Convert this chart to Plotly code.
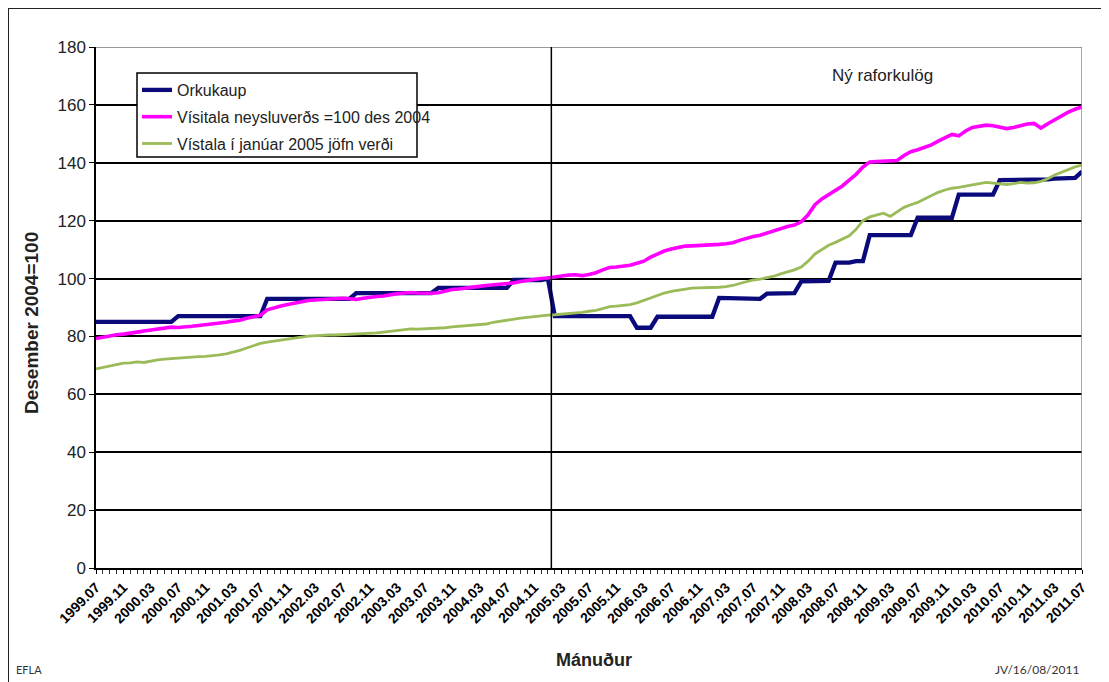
import plotly.graph_objects as go

# Month index 0 = 1999.07 ... 144 = 2011.07
start_year, start_month, n_months = 1999, 7, 145
months = [f"{start_year + (start_month - 1 + i) // 12}.{(start_month - 1 + i) % 12 + 1:02d}"
          for i in range(n_months)]

tick_labels = ["1999.07", "1999.11", "2000.03", "2000.07", "2000.11", "2001.03", "2001.07",
               "2001.11", "2002.03", "2002.07", "2002.11", "2003.03", "2003.07", "2003.11",
               "2004.03", "2004.07", "2004.11", "2005.03", "2005.07", "2005.11", "2006.03",
               "2006.07", "2006.11", "2007.03", "2007.07", "2007.11", "2008.03", "2008.07",
               "2008.11", "2009.03", "2009.07", "2009.11", "2010.03", "2010.07", "2010.11",
               "2011.03", "2011.07"]

orkukaup = [
    85, 85, 85, 85, 85, 85,
    85, 85, 85, 85, 85, 85, 87, 87, 87, 87, 87, 87,
    87, 87, 87, 87, 87, 87, 87, 93, 93, 93, 93, 93,
    93, 93, 93, 93, 93, 93, 93, 93, 95, 95, 95, 95,
    95, 95, 95, 95, 95, 95, 95, 95, 96.8, 96.8, 96.8, 96.8,
    96.8, 96.8, 96.8, 96.8, 96.8, 96.8, 96.8, 99.5, 99.5, 99.5, 99.5, 99.5,
    100, 87, 87, 87, 87, 87, 87, 87, 87, 87, 87, 87,
    87, 83, 83, 83, 86.8, 86.8, 86.8, 86.8, 86.8, 86.8, 86.8, 86.8,
    86.8, 93.3, 93.3, 93.3, 93.3, 93.3, 93.3, 93.0, 94.8, 94.8, 94.8, 94.8,
    95, 99, 99, 99, 99, 99.2, 105.5, 105.5, 105.5, 106, 106, 115,
    115, 115, 115, 115, 115, 115, 121, 121, 121, 121, 121, 121,
    129, 129, 129, 129, 129, 129, 134, 134, 134, 134, 134, 134,
    134.2, 134.3, 134.5, 134.5, 134.5, 134.8, 137,
]

visitala = [
    79.3, 79.8, 80.2, 80.6, 80.8, 81.0,
    81.5, 81.9, 82.3, 82.6, 83.0, 83.2, 83.1, 83.2, 83.5, 83.8, 84.0, 84.2,
    84.5, 84.9, 85.3, 85.6, 86.3, 86.8, 87.3, 89.2, 90.0, 90.5, 91.0, 91.5,
    92.0, 92.4, 92.6, 92.8, 92.9, 93.1, 93.2, 93.0, 92.8, 93.2, 93.6, 93.8,
    94.0, 94.5, 94.8, 95.0, 95.2, 95.0, 94.8, 94.9, 95.1, 95.8, 96.2, 96.4,
    96.6, 97.0, 97.3, 97.6, 97.8, 98.0, 98.2, 98.5, 99.0, 99.4, 99.7, 100.0,
    100.2, 100.6, 101.0, 101.2, 101.3, 101.0, 101.4, 102.0, 103.0, 103.8, 104.0, 104.2,
    104.6, 105.3, 106.0, 107.4, 108.6, 109.5, 110.2, 110.8, 111.2, 111.3, 111.4, 111.3,
    111.5, 111.8, 112.0, 112.4, 113.2, 114.0, 114.5, 115.0, 115.8, 116.5, 117.2, 118.0,
    118.5, 119.6, 122.0, 125.5, 127.5, 129.0, 130.5, 132.0, 134.0, 136.0, 138.5, 140.3,
    140.4, 140.6, 140.5, 140.8, 142.5, 143.8, 144.5, 145.3, 146.2, 147.5, 148.5, 149.8,
    149.3, 151.0, 152.2, 152.6, 153.0, 152.8, 152.2, 151.8, 152.2, 152.8, 153.4, 153.6,
    152.0, 153.5, 154.8, 156.3, 157.5, 158.5, 159.3,
]

jofnverd = [
    68.8, 69.3, 69.8, 70.3, 70.8, 70.9,
    71.2, 71.0, 71.5, 71.9, 72.2, 72.4, 72.5, 72.6, 72.9, 73.0, 73.1, 73.3,
    73.6, 74.0, 74.5, 75.2, 76.0, 76.9, 77.6, 78.0, 78.4, 78.8, 79.2, 79.5,
    79.8, 80.1, 80.3, 80.4, 80.5, 80.5, 80.6, 80.7, 80.8, 80.9, 81.0, 81.2,
    81.5, 81.8, 82.2, 82.5, 82.6, 82.5, 82.6, 82.6, 82.7, 83.0, 83.3, 83.5,
    83.6, 83.8, 84.0, 84.3, 84.9, 85.3, 85.6, 86.0, 86.3, 86.6, 86.9, 87.2,
    87.4, 87.5, 87.7, 87.9, 88.0, 88.3, 88.7, 89.0, 89.6, 90.3, 90.5, 90.8,
    91.0, 91.6, 92.5, 93.3, 94.2, 95.0, 95.6, 96.0, 96.4, 96.7, 96.8, 96.8,
    96.9, 97.0, 97.2, 97.6, 98.3, 99.0, 99.5, 99.8, 100.3, 100.8, 101.6, 102.2,
    103.0, 104.0, 106.0, 108.5, 110.0, 111.5, 112.5, 113.6, 114.8, 117.0, 120.0, 121.3,
    122.0, 122.6, 121.5, 123.0, 124.6, 125.5, 126.3, 127.5, 128.6, 129.8, 130.6, 131.2,
    131.5, 132.0, 132.3, 132.8, 133.2, 132.9, 132.6, 132.5, 132.8, 133.2, 133.0, 133.1,
    133.6, 134.5, 135.8, 136.8, 137.8, 138.6, 139.2,
]

x_idx = list(range(len(months)))
tick_pos = [months.index(t) for t in tick_labels]

FONT = "Liberation Sans, Arial, sans-serif"

# page has an 8px body margin: figure origin sits at (8, 8) in the window
OFF = 8
PL, PR, PT, PB = 96, 1082, 47, 568          # plot area in window pixels
W, H = 1109 - OFF, 682 - OFF


def px(xw):
    return (xw - PL) / (PR - PL)


def py(yw):
    return (PB - yw) / (PB - PT)


fig = go.Figure()
fig.add_trace(go.Scatter(x=x_idx, y=orkukaup, mode="lines", name="Orkukaup",
                         legendgroup="a", line=dict(color="#0a0a7a", width=4.3)))
fig.add_trace(go.Scatter(x=x_idx, y=visitala, mode="lines",
                         name="Vísitala neysluverðs =100 des 2004",
                         legendgroup="b", line=dict(color="#ff00ff", width=3.6)))
fig.add_trace(go.Scatter(x=x_idx, y=jofnverd, mode="lines",
                         name="Vístala í janúar 2005 jöfn verði",
                         legendgroup="c", line=dict(color="#9bbb59", width=2.8)))

fig.update_layout(
    width=W, height=H,
    margin=dict(l=PL - OFF, r=W - (PR - OFF), t=PT - OFF, b=H - (PB - OFF)),
    paper_bgcolor="white", plot_bgcolor="white",
    font=dict(family=FONT, color="black"),
    showlegend=True,
    legend=dict(x=px(137), y=py(73), xanchor="left", yanchor="top",
                bgcolor="rgba(0,0,0,0)", borderwidth=0,
                font=dict(size=16, family=FONT, color="#222"),
                tracegroupgap=3, traceorder="grouped"),
    xaxis=dict(range=[0, 144], showgrid=False, zeroline=False,
               tickmode="array", tickvals=tick_pos, ticktext=tick_labels,
               tickangle=-45, tickfont=dict(size=14, family=FONT, color="black", weight="bold"),
               ticks="outside", ticklen=4, tickcolor="black",
               showline=True, linecolor="black", linewidth=1.5,
               minor=dict(tickmode="linear", tick0=0, dtick=1, ticks="outside",
                          ticklen=4, tickcolor="#333", tickwidth=1)),
    yaxis=dict(range=[0, 180], tickmode="linear", tick0=0, dtick=20,
               showgrid=True, gridcolor="black", gridwidth=1.5, zeroline=False,
               ticks="outside", ticklen=5, tickcolor="black",
               tickfont=dict(size=17, family=FONT, color="#222"),
               showline=True, linecolor="black", linewidth=1.5),
)

# plot area right & top border (gray), vertical marker line
fig.add_shape(type="line", xref="x", yref="y", x0=144, x1=144, y0=0, y1=180,
              line=dict(color="#8a8a8a", width=1.5), layer="above")
fig.add_shape(type="line", xref="x", yref="y", x0=0, x1=144, y0=180, y1=180,
              line=dict(color="#777", width=1.5), layer="above")
fig.add_shape(type="line", xref="x", yref="y", x0=66.5, x1=66.5, y0=0, y1=180,
              line=dict(color="black", width=1.5), layer="above")
# legend box
fig.add_shape(type="rect", xref="paper", yref="paper",
              x0=px(137), x1=px(417), y0=py(157), y1=py(73),
              fillcolor="white", line=dict(color="black", width=1.5), layer="above")
# outer frame
fig.add_shape(type="rect", xref="paper", yref="paper",
              x0=px(8), x1=px(1125), y0=py(700), y1=py(8),
              line=dict(color="#222", width=2), layer="above")

fig.add_annotation(x=114.8, y=170.3, xref="x", yref="y", text="Ný raforkulög",
                   showarrow=False, font=dict(size=17, family=FONT, color="#222"))
fig.add_annotation(x=px(31), y=py(323), xref="paper", yref="paper",
                   xanchor="center", yanchor="middle",
                   text="<b>Desember 2004=100</b>", textangle=-90, showarrow=False,
                   font=dict(size=19, family=FONT, color="#222"))
fig.add_annotation(x=px(594), y=py(660), xref="paper", yref="paper",
                   xanchor="center", yanchor="middle",
                   text="<b>Mánuður</b>", showarrow=False,
                   font=dict(size=18, family=FONT, color="#222"))
fig.add_annotation(x=px(14), y=py(669), xref="paper", yref="paper",
                   xanchor="left", yanchor="middle", text="EFLA", showarrow=False,
                   font=dict(size=11, family="Lato, sans-serif", color="#333"))
fig.add_annotation(x=px(1081), y=py(669), xref="paper", yref="paper",
                   xanchor="right", yanchor="middle", text="JV/16/08/2011", showarrow=False,
                   font=dict(size=12, family="Lato, sans-serif", color="#333"))

fig.write_html("out.html")
